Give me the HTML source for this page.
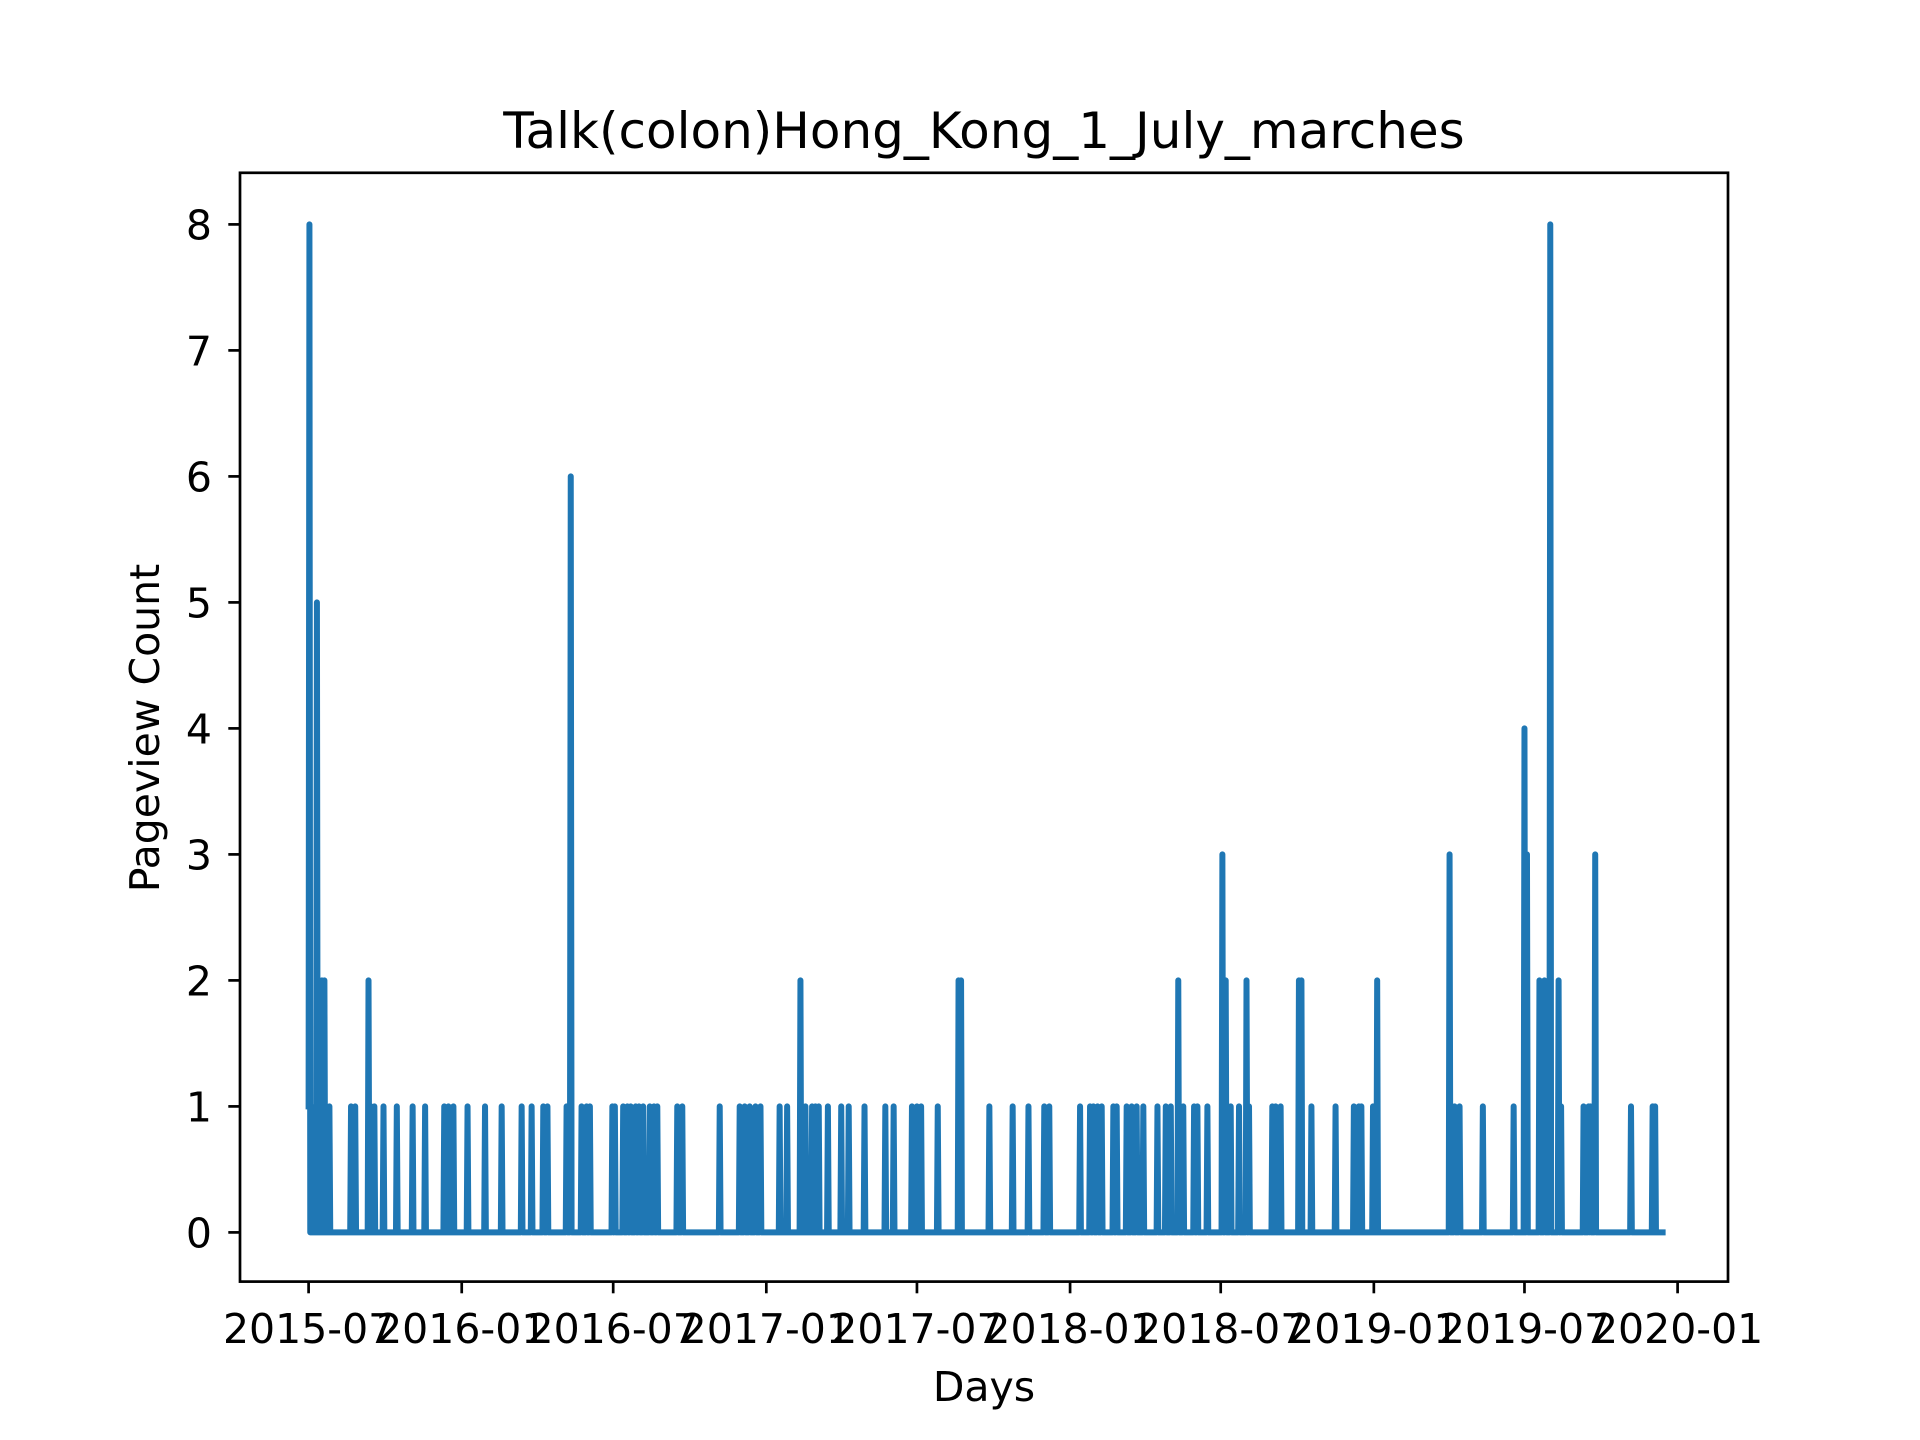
<!DOCTYPE html>
<html><head><meta charset="utf-8"><style>
html,body{margin:0;padding:0;background:#fff;}
svg{display:block;font-family:"DejaVu Sans","Liberation Sans",sans-serif;}
</style></head><body>
<svg id="chart" width="1920" height="1440" viewBox="0 0 1920 1440">
<rect width="1920" height="1440" fill="#fff"/>
<text x="984" y="148" font-size="50" text-anchor="middle">Talk(colon)Hong_Kong_1_July_marches</text>
<g id="plot"></g>
<rect x="240" y="172.8" width="1488" height="1108.8" fill="none" stroke="#000" stroke-width="2.7"/>
<g id="xticks"></g><g id="yticks"></g>
<text x="984" y="1401" font-size="41" text-anchor="middle">Days</text>
<text x="0" y="0" font-size="41" text-anchor="middle" transform="translate(159,728) rotate(-90)">Pageview Count</text>
</svg>
<script>
const spikeDays=[0,1,3,10,16,19,25,51,56,72,75,79,90,106,125,140,163,168,174,191,212,232,256,268,282,287,310,315,328,334,338,365,368,378,383,387,393,397,402,410,415,419,443,449,494,518,524,530,537,543,566,575,591,597,605,609,613,624,640,649,668,693,703,725,731,736,756,781,784,818,846,865,884,890,927,939,943,948,953,967,971,983,989,995,1003,1020,1030,1036,1045,1051,1064,1068,1080,1098,1102,1108,1118,1127,1130,1158,1162,1168,1190,1193,1205,1234,1256,1262,1265,1279,1284,1371,1377,1383,1411,1448,1461,1464,1479,1485,1492,1502,1505,1532,1538,1540,1546,1589,1615,1618];
const spikeValues=[1,8,1,5,2,2,1,1,1,2,1,1,1,1,1,1,1,1,1,1,1,1,1,1,1,1,1,6,1,1,1,1,1,1,1,1,1,1,1,1,1,1,1,1,1,1,1,1,1,1,1,1,2,1,1,1,1,1,1,1,1,1,1,1,1,1,1,2,2,1,1,1,1,1,1,1,1,1,1,1,1,1,1,1,1,1,1,1,2,1,1,1,1,3,2,1,1,2,1,1,1,1,2,2,1,1,1,1,1,1,2,3,1,1,1,1,4,3,2,2,8,2,1,1,1,1,3,1,1,1];
const lastDay=1627;
const xTickLabels=["2015-07","2016-01","2016-07","2017-01","2017-07","2018-01","2018-07","2019-01","2019-07","2020-01"];
const xTickDays=[0,184,366,550,731,915,1096,1280,1461,1645];
const yTickValues=[0,1,2,3,4,5,6,7,8];
const NS="http://www.w3.org/2000/svg";
const x=d=>308.6+d*(1677.6-308.6)/1645;
const y=v=>1232.4-v*126;
const series=new Array(lastDay+1).fill(0);
spikeDays.forEach((d,i)=>{series[d]=spikeValues[i];});
let pts=series.map((v,d)=>x(d).toFixed(2)+","+y(v).toFixed(2)).join(" ");
const pl=document.createElementNS(NS,"polyline");
pl.setAttribute("points",pts);
pl.setAttribute("fill","none");pl.setAttribute("stroke","#1f77b4");
pl.setAttribute("stroke-width","6");pl.setAttribute("stroke-linejoin","round");pl.setAttribute("stroke-linecap","square");


document.getElementById("plot").appendChild(pl);
const xg=document.getElementById("xticks");
xTickLabels.forEach((lab,i)=>{
 const px=x(xTickDays[i]);
 const t=document.createElementNS(NS,"line");
 t.setAttribute("x1",px);t.setAttribute("x2",px);t.setAttribute("y1",1281.6);t.setAttribute("y2",1293.3);
 t.setAttribute("stroke","#000");t.setAttribute("stroke-width","2.7");
 
 
 xg.appendChild(t);
 const tx=document.createElementNS(NS,"text");
 tx.setAttribute("x",px);tx.setAttribute("y",1343);tx.setAttribute("font-size","41");tx.setAttribute("text-anchor","middle");
 tx.textContent=lab;
 
 
 xg.appendChild(tx);
});
const yg=document.getElementById("yticks");
yTickValues.forEach(v=>{
 const py=y(v);
 const t=document.createElementNS(NS,"line");
 t.setAttribute("x1",228.3);t.setAttribute("x2",240);t.setAttribute("y1",py);t.setAttribute("y2",py);
 t.setAttribute("stroke","#000");t.setAttribute("stroke-width","2.7");
 
 
 yg.appendChild(t);
 const tx=document.createElementNS(NS,"text");
 tx.setAttribute("x",212);tx.setAttribute("y",py+15);tx.setAttribute("font-size","41");tx.setAttribute("text-anchor","end");
 tx.textContent=String(v);
 
 
 yg.appendChild(tx);
});
</script>
</body></html>
